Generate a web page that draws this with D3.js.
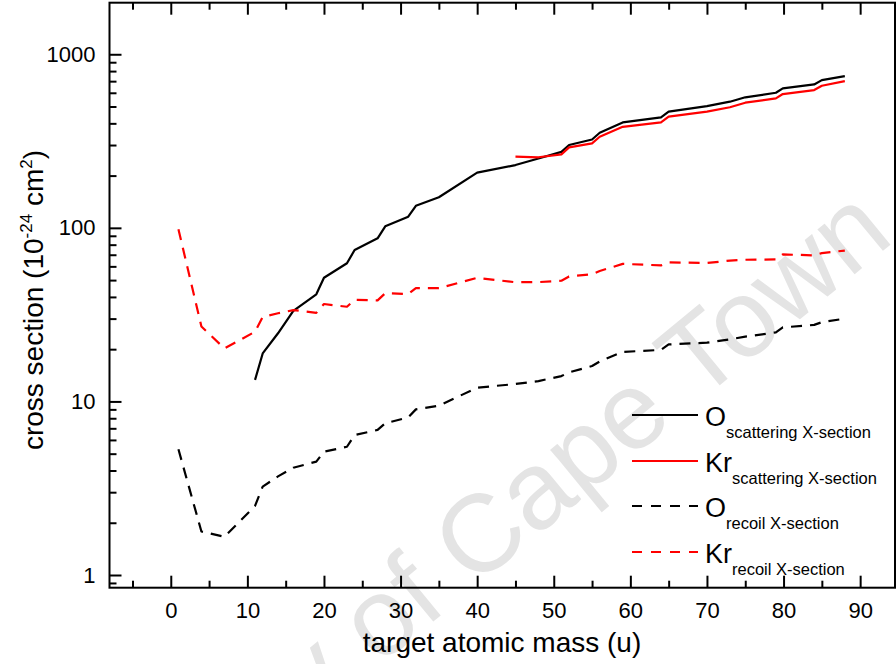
<!DOCTYPE html>
<html><head><meta charset="utf-8">
<script src="https://cdn.jsdelivr.net/npm/d3@7"></script>
<style>
body{margin:0;background:#fff}
svg{display:block}
text{font-family:"Liberation Sans",Arial,Helvetica,sans-serif;fill:#000}
</style>
</head><body>
<svg id="chart" width="896" height="664"></svg>
<script>
// ---- data ----
const oScatMass  = [11,12,14,16,19,20,23,24,27,28,31,32,35,40,45,48,51,52,55,56,59,64,65,70,73,75,79,79.9,84,85,88];
const oScatValue = [13.3,18.9,24.7,33.2,41.4,51.6,62.5,74.5,87,102,116,134,150,208,230,251,274,300,323,353,405,433,467,503,533,565,600,636,670,710,749];

const krScatMass  = [45,48,51,52,55,56,59,64,65,70,73,75,79,79.9,84,85,88];
const krScatValue = [257,255,265,291,307,335,382,405,437,467,495,526,557,590,622,659,701];

const recoilMass    = [1,4,7,11,12,14,16,19,20,23,24,27,28,31,32,35,40,45,48,51,52,55,56,59,64,65,70,73,75,79,79.9,84,85,88];
const oRecoilValue  = [5.3,1.78,1.66,2.5,3.23,3.7,4.15,4.5,5.13,5.48,6.4,6.85,7.48,8.1,9.0,9.45,12.0,12.6,13.1,14.0,14.7,16.0,17.0,19.3,19.8,21.3,21.8,22.8,23.6,25.0,26.7,27.6,28.6,30.0];
const krRecoilValue = [98,27,20.2,25.2,30.7,32.2,33.6,32.4,36.4,35.1,38.5,38.2,42,41.6,45,44.9,51.5,48.6,48.7,49.6,52.5,54,56.4,62,60.8,63.3,62.7,64.8,65.5,65.8,70.3,69.4,71.5,74];

const xMajorTicks = [0,10,20,30,40,50,60,70,80,90];
const xMinorTicks = [-5,5,15,25,35,45,55,65,75,85];
const yMajorTicks = [1,10,100,1000];
const yMinorTicks = [0.9,2,3,4,5,6,7,8,9,20,30,40,50,60,70,80,90,200,300,400,500,600,700,800,900];

const seriesNames = ["O", "Kr", "O", "Kr"];
const seriesSubs  = ["scattering X-section","scattering X-section","recoil X-section","recoil X-section"];
const seriesColors = ["#000000","#ff0000","#000000","#ff0000"];
const seriesDashed = [false,false,true,true];

const xTitle = "target atomic mass (u)";
const watermark = "University of Cape Town";

// ---- layout ----
const L = 109.5, R = 895, T = 2.7, B = 587.7;
const svg = d3.select("#chart");
const x = d3.scaleLinear().domain([-8, 94.55]).range([L, R]);
const y = d3.scaleLog().domain([0.845, 1982]).range([B, T]);

// watermark (behind)
svg.append("text")
  .attr("transform","translate(896,240) rotate(-39.5)")
  .attr("text-anchor","end")
  .style("font-size","110px")
  .style("fill","#e4e4e4")
  .text(watermark);

// data lines
const line = d3.line().x(d=>x(d[0])).y(d=>y(d[1]));
const series = [
  {m: oScatMass, v: oScatValue, i:0},
  {m: krScatMass, v: krScatValue, i:1},
  {m: recoilMass, v: oRecoilValue, i:2},
  {m: recoilMass, v: krRecoilValue, i:3}
];
const plot = svg.append("g");
series.forEach(s=>{
  plot.append("path")
    .datum(s.m.map((m,k)=>[m, s.v[k]]))
    .attr("d", line)
    .attr("fill","none")
    .attr("stroke", seriesColors[s.i])
    .attr("stroke-width", 2.2)
    .attr("stroke-linejoin","round")
    .attr("stroke-dasharray", seriesDashed[s.i] ? "11,8" : null);
});

// axes
function styleAxis(g){
  g.select(".domain").remove();
  g.selectAll("line").attr("stroke","#000").attr("stroke-width",2);
  g.selectAll("text").style("font-size","22px").attr("fill","#000");
}
svg.append("g").attr("transform",`translate(0,${B})`)
  .call(d3.axisBottom(x).tickValues(xMajorTicks).tickSize(-12).tickPadding(15).tickFormat(d3.format("d")))
  .call(styleAxis);
svg.append("g").attr("transform",`translate(0,${B})`)
  .call(d3.axisBottom(x).tickValues(xMinorTicks).tickSize(-7).tickFormat(""))
  .call(styleAxis);
svg.append("g").attr("transform",`translate(0,${T})`)
  .call(d3.axisTop(x).tickValues(xMajorTicks).tickSize(-12).tickFormat(""))
  .call(styleAxis);
svg.append("g").attr("transform",`translate(0,${T})`)
  .call(d3.axisTop(x).tickValues(xMinorTicks).tickSize(-7).tickFormat(""))
  .call(styleAxis);
svg.append("g").attr("transform",`translate(${L},0)`)
  .call(d3.axisLeft(y).tickValues(yMajorTicks).tickSize(-12).tickPadding(14).tickFormat(d3.format("d")))
  .call(styleAxis);
svg.append("g").attr("transform",`translate(${L},0)`)
  .call(d3.axisLeft(y).tickValues(yMinorTicks).tickSize(-7).tickFormat(""))
  .call(styleAxis);

// frame
svg.append("rect").attr("x",L).attr("y",T).attr("width",R-L).attr("height",B-T)
  .attr("fill","none").attr("stroke","#000").attr("stroke-width",2);

// axis titles
svg.append("text").attr("x",502).attr("y",652).attr("text-anchor","middle")
  .style("font-size","28px").text(xTitle);
const yt = svg.append("text").attr("transform","translate(43,300) rotate(-90)")
  .attr("text-anchor","middle").style("font-size","28px");
yt.append("tspan").text("cross section (10");
yt.append("tspan").attr("dy",-11).style("font-size","17px").text("-24");
yt.append("tspan").attr("dy",11).text(" cm");
yt.append("tspan").attr("dy",-11).style("font-size","17px").text("2");
yt.append("tspan").attr("dy",11).text(")");

// legend
const legY = [415, 461, 506, 552];
const leg = svg.append("g");
legY.forEach((ly,i)=>{
  leg.append("line").attr("x1",632).attr("x2",698).attr("y1",ly).attr("y2",ly)
    .attr("stroke",seriesColors[i]).attr("stroke-width",2.2)
    .attr("stroke-dasharray", seriesDashed[i] ? "10,9" : null);
  const t = leg.append("text").attr("x",705).attr("y",ly+11).style("font-size","27px");
  t.append("tspan").text(seriesNames[i]);
  t.append("tspan").attr("dy",12).style("font-size","16.5px").text(seriesSubs[i]);
});
</script>
</body></html>
